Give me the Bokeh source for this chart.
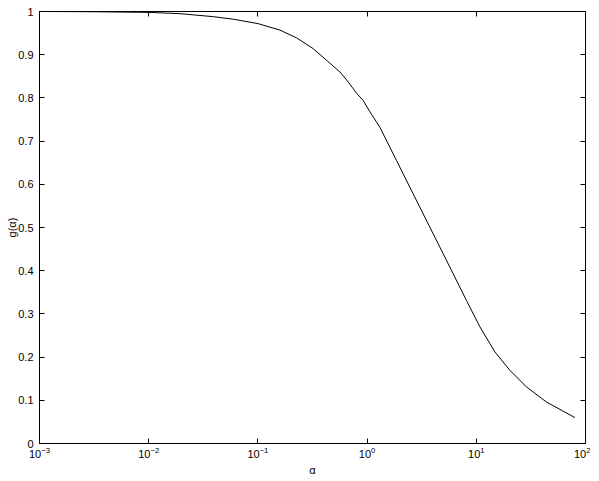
from bokeh.plotting import figure
from bokeh.models import (LogAxis, LinearAxis, FixedTicker, LogTicker, Range1d,
                          CustomJSTickFormatter)
from bokeh.embed import file_html
from bokeh.resources import INLINE

# data
alpha = [0.001, 0.003, 0.01, 0.0194, 0.0391, 0.06, 0.1, 0.159, 0.226, 0.321, 0.426,
         0.564, 0.648, 0.80, 0.92, 1.06, 1.31, 1.86, 2.64, 3.70, 4.63, 6.14, 8.13, 10.8,
         14.8, 20.2, 28.8, 43.9, 80.0]
g = [1.0, 0.9995, 0.998, 0.995, 0.988, 0.982, 0.972, 0.957, 0.939, 0.914, 0.887,
     0.860, 0.842, 0.811, 0.794, 0.768, 0.732, 0.655, 0.578, 0.504, 0.455, 0.393, 0.331,
     0.270, 0.212, 0.170, 0.131, 0.096, 0.060]

y_ticks = [0, 0.1, 0.2, 0.3, 0.4, 0.5, 0.6, 0.7, 0.8, 0.9, 1]
y_tick_labels = {0: "0", 0.1: "0.1", 0.2: "0.2", 0.3: "0.3", 0.4: "0.4", 0.5: "0.5",
                 0.6: "0.6", 0.7: "0.7", 0.8: "0.8", 0.9: "0.9", 1: "1"}
x_label = "α"
y_label = "g(α)"

FONT = "Liberation Sans"

p = figure(x_axis_type="log",
           x_range=Range1d(1e-3, 1e2), y_range=Range1d(0, 1),
           output_backend="svg", toolbar_location=None,
           min_border_left=39, min_border_right=5, min_border_top=11, min_border_bottom=20)
p.frame_width = 546
p.frame_height = 432

p.line(alpha, g, line_color="black", line_width=1)

p.xgrid.visible = False
p.ygrid.visible = False
p.outline_line_color = "black"
p.outline_line_alpha = 1.0

xa = p.xaxis[0]
xa.ticker = LogTicker(num_minor_ticks=0)
xa.axis_label = x_label
ya = p.yaxis[0]
ya.ticker = FixedTicker(ticks=y_ticks)
ya.major_label_overrides = y_tick_labels
ya.axis_label = y_label

for ax in (xa, ya):
    ax.major_tick_in = 5
    ax.major_tick_out = 0
    ax.minor_tick_line_color = None
    ax.axis_line_color = "black"
    ax.major_tick_line_color = "black"
    ax.major_label_text_font = FONT
    ax.major_label_text_font_size = "11px"
    ax.major_label_text_color = "black"
    ax.axis_label_text_font = FONT
    ax.axis_label_text_font_size = "11px"
    ax.axis_label_text_font_style = "normal"
    ax.axis_label_text_color = "black"

ya.major_label_standoff = 6
ya.axis_label_standoff = -3
xa.major_label_standoff = 3
xa.axis_label_standoff = 3

blank = CustomJSTickFormatter(code="return '';")
top = LogAxis(ticker=LogTicker(num_minor_ticks=0), formatter=blank)
right = LinearAxis(ticker=FixedTicker(ticks=y_ticks), formatter=blank)
for ax in (top, right):
    ax.major_tick_in = 5
    ax.major_tick_out = 0
    ax.minor_tick_line_color = None
    ax.major_label_text_font_size = "2px"
    ax.major_label_text_alpha = 0
    ax.major_label_standoff = 0
    ax.axis_line_color = "black"
p.add_layout(top, "above")
p.add_layout(right, "right")

open("out.html", "w").write(file_html(p, INLINE))
